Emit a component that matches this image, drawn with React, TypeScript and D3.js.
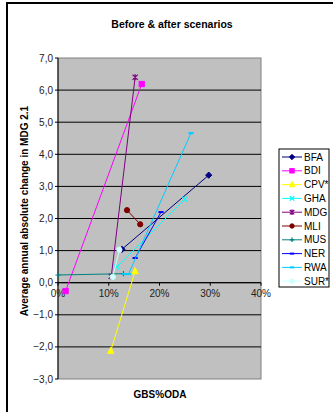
import React from "react";
import * as d3 from "d3";

const seriesNames = ["BFA", "BDI", "CPV*", "GHA", "MDG", "MLI", "MUS", "NER", "RWA", "SUR*"];
const seriesColors = ["#000080", "#FF00FF", "#FFFF00", "#00FFFF", "#800080", "#800000", "#008080", "#0000FF", "#00CCFF", "#CCFFFF"];
const seriesMarkers = ["diamond", "square", "triangle", "x", "star", "circle", "plus", "dash", "dash", "circle"];

const bfaX = [12.6, 29.7];
const bfaY = [1.04, 3.35];
const bdiX = [1.5, 16.5];
const bdiY = [-0.26, 6.19];
const cpvX = [10.4, 15.2];
const cpvY = [-2.12, 0.36];
const ghaX = [11.6, 25.0];
const ghaY = [0.49, 2.6];
const mdgX = [10.5, 15.2];
const mdgY = [0.2, 6.4];
const mliX = [13.6, 16.2];
const mliY = [2.26, 1.82];
const musX = [0.0, 12.9];
const musY = [0.24, 0.28];
const nerX = [15.2, 20.3];
const nerY = [0.77, 2.2];
const rwaX = [13.1, 13.9, 26.2];
const rwaY = [0.27, 0.27, 4.66];
const surX = [10.8, 12.1];
const surY = [0.18, 1.03];

const allX = [bfaX, bdiX, cpvX, ghaX, mdgX, mliX, musX, nerX, rwaX, surX];
const allY = [bfaY, bdiY, cpvY, ghaY, mdgY, mliY, musY, nerY, rwaY, surY];

const yTicks = [-3, -2, -1, 0, 1, 2, 3, 4, 5, 6, 7];
const xTicks = [0, 10, 20, 30, 40];

const FONT = "'Liberation Sans', Arial, sans-serif";

function Marker({ type, x, y, color, s = 2.6 }: { type: string; x: number; y: number; color: string; s?: number }) {
  switch (type) {
    case "diamond":
      return <path d={`M${x},${y - s - 0.5}L${x + s + 0.5},${y}L${x},${y + s + 0.5}L${x - s - 0.5},${y}Z`} fill={color} stroke={color} />;
    case "square":
      return <rect x={x - s} y={y - s} width={2 * s} height={2 * s} fill={color} stroke={color} />;
    case "triangle":
      return <path d={`M${x},${y - s - 1}L${x + s + 0.5},${y + s}L${x - s - 0.5},${y + s}Z`} fill={color} stroke={color} />;
    case "x":
      return <path d={`M${x - s},${y - s}L${x + s},${y + s}M${x - s},${y + s}L${x + s},${y - s}`} stroke={color} strokeWidth={1.3} fill="none" />;
    case "star":
      return <path d={`M${x - s},${y - s}L${x + s},${y + s}M${x - s},${y + s}L${x + s},${y - s}M${x},${y - s - 0.5}L${x},${y + s + 0.5}`} stroke={color} strokeWidth={1.3} fill="none" />;
    case "circle":
      return <circle cx={x} cy={y} r={s} fill={color} stroke={color} />;
    case "plus":
      return <path d={`M${x - s},${y}L${x + s},${y}M${x},${y - s}L${x},${y + s}`} stroke={color} strokeWidth={1.2} fill="none" />;
    case "dash":
      return <path d={`M${x - s},${y}L${x + s},${y}`} stroke={color} strokeWidth={2} fill="none" />;
    default:
      return null;
  }
}

export default function App() {
  const left = 58, right = 261, top = 58, bottom = 379;
  const x = d3.scaleLinear().domain([0, 40]).range([left, right]);
  const y = d3.scaleLinear().domain([-3, 7]).range([bottom, top]);
  const line = d3.line<[number, number]>().x(d => x(d[0])).y(d => y(d[1]));

  const legendX = 279, legendY = 149, legendW = 50, legendH = 138;
  const legendStep = 13.8;

  return (
    <svg width={333} height={412} style={{ position: "absolute", left: 0, top: 0, background: "#fff" }} fontFamily={FONT}>
      <rect x={0} y={0} width={333} height={412} fill="#fff" />
      <rect x={7} y={3} width={400} height={500} fill="none" stroke="#000" strokeWidth={2} />
      <text x={172} y={28} textAnchor="middle" fontSize={10.5} fontWeight="bold" fill="#000">Before &amp; after scenarios</text>

      {/* plot area */}
      <rect x={left} y={top} width={right - left} height={bottom - top} fill="#C0C0C0" stroke="#808080" strokeWidth={1} />
      {yTicks.filter(t => t !== -3 && t !== 7).map(t => (
        <line key={t} x1={left} x2={right} y1={y(t)} y2={y(t)} stroke="#000" strokeWidth={1} />
      ))}
      {/* y axis */}
      <line x1={left} x2={left} y1={top} y2={bottom} stroke="#000" strokeWidth={1} />
      {yTicks.map(t => (
        <g key={t}>
          <line x1={left - 3} x2={left} y1={y(t)} y2={y(t)} stroke="#000" />
          <text x={left - 5} y={y(t) + 3.5} textAnchor="end" fontSize={10} fill="#222">{d3.format(".1f")(t).replace(".", ",")}</text>
        </g>
      ))}
      {/* x axis at 0 */}
      <line x1={left} x2={right} y1={y(0)} y2={y(0)} stroke="#000" strokeWidth={1} />
      {xTicks.map(t => (
        <g key={t}>
          <line x1={x(t)} x2={x(t)} y1={y(0)} y2={y(0) + 3} stroke="#000" />
          <text x={x(t)} y={y(0) + 14} textAnchor="middle" fontSize={10} fill="#222">{t}%</text>
        </g>
      ))}

      {/* series */}
      {seriesNames.map((n, i) => {
        const pts = allX[i].map((v, j) => [v, allY[i][j]] as [number, number]);
        return (
          <g key={n}>
            <path d={line(pts) || ""} fill="none" stroke={seriesColors[i]} strokeWidth={1} />
            {pts.map((p, j) => (
              <Marker key={j} type={seriesMarkers[i]} x={x(p[0])} y={y(p[1])} color={seriesColors[i]} />
            ))}
          </g>
        );
      })}

      {/* axis titles */}
      <text x={160} y={398} textAnchor="middle" fontSize={10} fontWeight="bold" fill="#000">GBS%ODA</text>
      <text transform={`translate(28,211) rotate(-90)`} textAnchor="middle" fontSize={10} fontWeight="bold" fill="#000">Average annual absolute change in MDG 2.1</text>

      {/* legend */}
      <rect x={legendX} y={legendY} width={legendW} height={legendH} fill="#fff" stroke="#000" strokeWidth={1} />
      {seriesNames.map((n, i) => {
        const ly = legendY + 8 + i * legendStep;
        return (
          <g key={n}>
            <line x1={legendX + 3} x2={legendX + 23} y1={ly} y2={ly} stroke={seriesColors[i]} strokeWidth={1} />
            <Marker type={seriesMarkers[i]} x={legendX + 13} y={ly} color={seriesColors[i]} s={2.2} />
            <text x={legendX + 25} y={ly + 3.5} fontSize={10} fill="#000">{n}</text>
          </g>
        );
      })}
    </svg>
  );
}
